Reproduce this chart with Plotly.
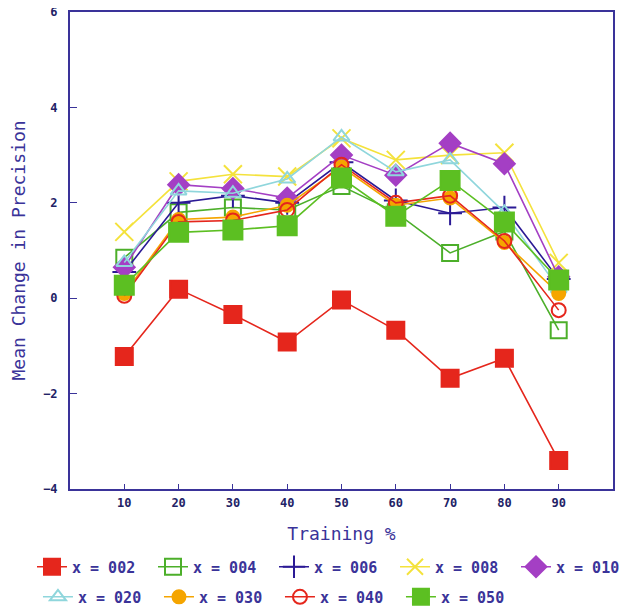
import plotly.graph_objects as go

training = [10, 20, 30, 40, 50, 60, 70, 80, 90]
x_ticks = [10, 20, 30, 40, 50, 60, 70, 80, 90]
y_ticks = [-4, -2, 0, 2, 4, 6]

s002 = [-1.22, 0.19, -0.34, -0.92, -0.04, -0.67, -1.68, -1.26, -3.40]
s004 = [0.85, 1.80, 1.90, 1.85, 2.35, 1.80, 0.95, 1.40, -0.67]
s006 = [0.55, 2.00, 2.15, 2.00, 2.85, 2.05, 1.78, 1.90, 0.40]
s008 = [1.39, 2.45, 2.60, 2.55, 3.35, 2.90, 3.00, 3.05, 0.74]
s010 = [0.65, 2.38, 2.30, 2.10, 3.00, 2.58, 3.25, 2.82, 0.45]
s020 = [0.75, 2.25, 2.20, 2.50, 3.38, 2.65, 2.90, 1.80, 0.20]
s030 = [0.10, 1.65, 1.70, 1.95, 2.75, 1.95, 2.10, 1.17, 0.10]
s040 = [0.05, 1.60, 1.63, 1.85, 2.80, 2.00, 2.15, 1.20, -0.25]
s050 = [0.27, 1.38, 1.43, 1.52, 2.52, 1.72, 2.47, 1.60, 0.38]

series = [
    ("x = 002", s002, "#e5261c", "square", 17, "legend"),
    ("x = 004", s004, "#4caf2a", "square-open", 16, "legend"),
    ("x = 006", s006, "#2b1a95", "cross-thin-open", 17, "legend"),
    ("x = 008", s008, "#f4e23c", "x-thin-open", 18, "legend"),
    ("x = 010", s010, "#a43fc4", "diamond", 16, "legend"),
    ("x = 020", s020, "#8fd6dc", "triangle-up-open", 14, "legend2"),
    ("x = 030", s030, "#f5a500", "circle", 13, "legend2"),
    ("x = 040", s040, "#e5261c", "circle-open", 14, "legend2"),
    ("x = 050", s050, "#5cbf22", "square", 19, "legend2"),
]

fig = go.Figure()
for name, vals, col, sym, size, lg in series:
    fig.add_trace(go.Scatter(
        x=training, y=vals, name=name, mode="lines+markers", legend=lg,
        line=dict(color=col, width=1.6),
        marker=dict(symbol=sym, size=size, color=col,
                    line=dict(color=col, width=2)),
    ))

axcol = "#3a3399"
tickcol = "#222266"
legfont = dict(family="DejaVu Sans Mono", size=15, color=axcol, weight="bold")
common_leg = dict(orientation="h", xanchor="left", yanchor="middle",
                  entrywidth=76, entrywidthmode="pixels", itemwidth=30,
                  font=legfont, bgcolor="rgba(0,0,0,0)", borderwidth=0)

fig.update_layout(
    width=629, height=608,
    margin=dict(l=62, r=24, t=4, b=126),
    paper_bgcolor="white", plot_bgcolor="white",
    font=dict(family="DejaVu Sans Mono", color=axcol, size=12),
    showlegend=True,
    legend=dict(x=-0.059, y=-0.161, **common_leg),
    legend2=dict(x=-0.059, y=-0.224, **common_leg),
    xaxis=dict(range=[0, 100], tickvals=x_ticks, ticks="inside", ticklen=5,
               tickcolor=axcol, showline=True, linecolor=axcol, linewidth=2,
               mirror=True, showgrid=False, zeroline=False, automargin=False,
               ticklabelstandoff=2, ticklabeloverflow="allow",
               tickfont=dict(family="DejaVu Sans Mono", size=12, color=tickcol, weight="bold"),
               title=dict(text="Training %", font=dict(size=18, color=axcol), standoff=18)),
    yaxis=dict(range=[-4, 6], tickvals=y_ticks, ticks="inside", ticklen=7,
               tickcolor=axcol, showline=True, linecolor=axcol, linewidth=2,
               mirror=True, showgrid=False, zeroline=False, automargin=False,
               ticklabelstandoff=8, ticklabeloverflow="allow",
               tickfont=dict(family="DejaVu Sans Mono", size=12, color=tickcol, weight="bold"),
               title=dict(text="Mean Change in Precision", font=dict(size=18, color=axcol), standoff=16)),
)

fig.write_html(
    "out.html",
    config={"displayModeBar": False},
    post_script="document.querySelectorAll('.main-svg').forEach(function(s){s.style.overflow='visible';});",
)
